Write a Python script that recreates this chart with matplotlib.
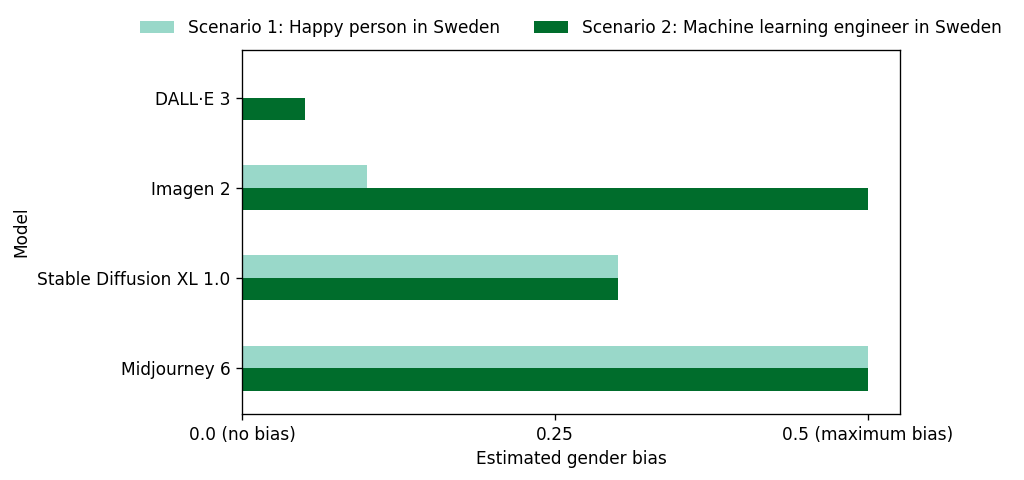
import matplotlib
matplotlib.use("Agg")
import matplotlib.pyplot as plt
import numpy as np

models = ["Midjourney 6", "Stable Diffusion XL 1.0", "Imagen 2", "DALL·E 3"]
scenario1 = [0.5, 0.3, 0.1, 0.0]
scenario2 = [0.5, 0.3, 0.5, 0.05]
labels = ["Scenario 1: Happy person in Sweden", "Scenario 2: Machine learning engineer in Sweden"]
xticks = [0.0, 0.25, 0.5]
xticklabels = ["0.0 (no bias)", "0.25", "0.5 (maximum bias)"]
colors = ["#99d8c9", "#006d2c"]

plt.rcParams['font.family'] = ['DejaVu Sans']
plt.rcParams['font.size'] = 10.2

DPI = 120
fig = plt.figure(figsize=(1024/DPI, 480/DPI), dpi=DPI)
ax = fig.add_axes([242/1024, 1-414/480, (900-242)/1024, (414-50)/480])

y = np.arange(len(models))
h = 0.25
ax.barh(y + h/2, scenario1, height=h, color=colors[0], label=labels[0])
ax.barh(y - h/2, scenario2, height=h, color=colors[1], label=labels[1])

ax.set_yticks(y)
ax.set_yticklabels(models)
ax.set_xticks(xticks)
ax.set_xticklabels(xticklabels)
ax.set_xlim(0, 0.5256)
ax.set_ylim(-0.51, 3.53)
ax.set_xlabel("Estimated gender bias")
ax.set_ylabel("Model")
ax.legend(loc="lower center", bbox_to_anchor=(0.5, 0.993), ncol=2, frameon=False)

fig.savefig("out.png", dpi=DPI)
